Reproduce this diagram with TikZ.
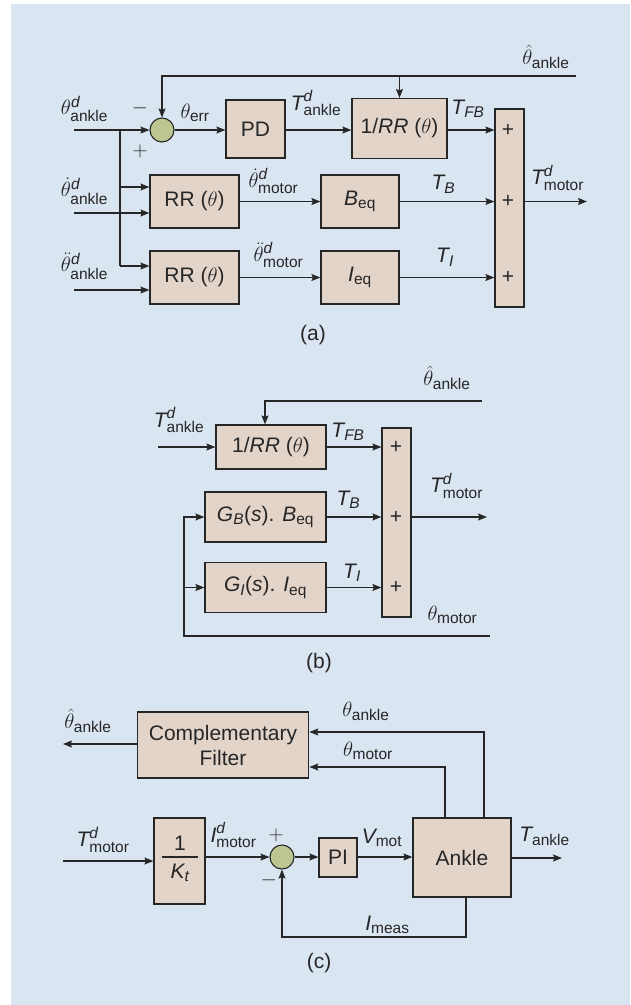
\documentclass[tikz,border=0pt]{standalone}
\usepackage{amsmath}
\usepackage{fontspec}
\setmainfont{Liberation Sans}
\usetikzlibrary{arrows.meta}
\DeclareMathSizes{21}{21}{15.5}{11}
\definecolor{bgblue}{RGB}{218,229,242}
\definecolor{boxfill}{RGB}{226,212,201}
\definecolor{sumgreen}{RGB}{189,198,146}
\definecolor{ink}{RGB}{38,38,38}
\newcommand{\vi}[1]{\textit{#1}}
\begin{document}
\begin{tikzpicture}[x=1pt,y=-1pt,
  font=\fontsize{21}{25}\selectfont,
  ln/.style={line width=1.1pt,draw=ink},
  arr/.style={ln,-{Stealth[length=9pt,width=7pt,inset=1.5pt]}},
  blk/.style={draw=ink,fill=boxfill,line width=1.2pt,inner sep=0pt,text=ink},
  sumc/.style={circle,draw=ink,fill=sumgreen,minimum size=24pt,inner sep=0pt,line width=1.1pt},
  lbl/.style={inner sep=0pt,text=ink}]
\useasboundingbox (0,0) rectangle (630,1005);
\fill[bgblue] (11,4) rectangle (630,1005);

% ---------------- (a) ----------------
\node[sumc] (s1) at (162,130) {};
\node[blk,minimum width=59pt,minimum height=58pt] (pd) at (255.5,129) {PD};
\node[blk,minimum width=95pt,minimum height=60pt] (irr) at (399.5,128.5) {1/\vi{RR} ($\theta$)};
\node[blk,minimum width=29pt,minimum height=198pt] (sA) at (509.5,208) {};
\node[blk,minimum width=89pt,minimum height=53pt] (rr1) at (194.5,201.5) {RR ($\theta$)};
\node[blk,minimum width=78pt,minimum height=53pt] (beq) at (360,201.5) {\vi{B}$_{\text{eq}}$};
\node[blk,minimum width=89pt,minimum height=53pt] (rr2) at (194.5,277.5) {RR ($\theta$)};
\node[blk,minimum width=78pt,minimum height=53pt] (ieq) at (360,277.5) {\vi{I}$_{\text{eq}}$};
\node[lbl] (pA1) at (508,130) {+};
\node[lbl] (pA2) at (508,201.5) {+};
\node[lbl] (pA3) at (508,277.5) {+};

\coordinate (inA) at (74,130);
\coordinate (brA) at (120,130);
\coordinate (brB) at (120,187);
\coordinate (brC) at (120,266);
\coordinate (inB) at (74,213);
\coordinate (inC) at (74,290);
\coordinate (fbA) at (576,76);
\coordinate (fbAL) at (162,76);
\coordinate (outA) at (587,201.5);

\draw[arr] (inA) -- (s1.west);
\draw[ln] (brA) -- (brC);
\draw[arr] (brB) -- (rr1.west |- brB);
\draw[arr] (brC) -- (rr2.west |- brC);
\draw[arr] (inB) -- (rr1.west |- inB);
\draw[arr] (inC) -- (rr2.west |- inC);
\draw[arr] (s1.east) -- (pd.west |- s1.east);
\draw[arr] (pd.east |- s1.east) -- (irr.west |- s1.east);
\draw[arr] (irr.east |- s1.east) -- (sA.west |- s1.east);
\draw[arr] (fbA) -- (fbAL) -- (s1.north);
\draw[arr] (irr.north |- fbA) -- (irr.north);
\draw[arr] (rr1.east) -- (beq.west);
\draw[arr] (beq.east) -- (sA.west |- beq.east);
\draw[arr] (rr2.east) -- (ieq.west);
\draw[arr] (ieq.east) -- (sA.west |- ieq.east);
\draw[arr] (sA.east |- beq.east) -- (outA);

\node[lbl] (la1) at (546,57) {$\hat{\theta}_{\text{ankle}}$};
\node[lbl] (la2) at (84.5,109) {$\theta^{\vi{d}}_{\text{ankle}}$};
\node[lbl] (la3) at (140,108) {$-$};
\node[lbl] (la4) at (140,151) {$+$};
\node[lbl] (la5) at (195,113) {$\theta_{\text{err}}$};
\node[lbl] (la6) at (316,103) {$\vi{T}^{\vi{d}}_{\text{ankle}}$};
\node[lbl] (la7) at (468,109) {$\vi{T}_{\vi{FB}}$};
\node[lbl] (la8) at (84.5,191) {$\dot{\theta}^{\vi{d}}_{\text{ankle}}$};
\node[lbl] (la9) at (273.5,181) {$\dot{\theta}^{\vi{d}}_{\text{motor}}$};
\node[lbl] (la10) at (443.5,184.5) {$\vi{T}_{\vi{B}}$};
\node[lbl] (la11) at (557.5,177.5) {$\vi{T}^{\vi{d}}_{\text{motor}}$};
\node[lbl] (la12) at (84.5,266) {$\ddot{\theta}^{\vi{d}}_{\text{ankle}}$};
\node[lbl] (la13) at (278.5,255) {$\ddot{\theta}^{\vi{d}}_{\text{motor}}$};
\node[lbl] (la14) at (445,257.5) {$\vi{T}_{\vi{I}}$};
\node[lbl] (la15) at (313,335) {(a)};

% ---------------- (b) ----------------
\node[blk,minimum width=110pt,minimum height=44pt] (irrB) at (271,447) {1/\vi{RR} ($\theta$)};
\node[blk,minimum width=29pt,minimum height=189pt] (sB) at (396.5,522.5) {};
\node[blk,minimum width=121pt,minimum height=50pt] (gb) at (265.5,517) {\vi{G}$_{\vi{B}}$(\vi{s}). \vi{B}$_{\text{eq}}$};
\node[blk,minimum width=121pt,minimum height=50pt] (gi) at (265.5,587.5) {\vi{G}$_{\vi{I}}$(\vi{s}). \vi{I}$_{\text{eq}}$};
\node[lbl] (pB1) at (396,447) {+};
\node[lbl] (pB2) at (396,517) {+};
\node[lbl] (pB3) at (396,587.5) {+};

\coordinate (inTB) at (158,447);
\coordinate (fbB) at (482,401);
\coordinate (outB) at (487,517);
\coordinate (fbM) at (490,636);
\coordinate (fbMc) at (184,636);

\draw[arr] (inTB) -- (irrB.west);
\draw[arr] (fbB) -- ([xshift=-6pt]fbB -| irrB.north) -- ([xshift=-6pt]irrB.north);
\draw[arr] (irrB.east) -- (sB.west |- irrB.east);
\draw[arr] (gb.east) -- (sB.west |- gb.east);
\draw[arr] (gi.east) -- (sB.west |- gi.east);
\draw[arr] (sB.east |- gb.east) -- (outB);
\draw[arr] (fbM) -- (fbMc) -- (fbMc |- gb.west) -- (gb.west);
\draw[arr] (fbMc |- gi.west) -- (gi.west);

\node[lbl] (lb1) at (447,378) {$\hat{\theta}_{\text{ankle}}$};
\node[lbl] (lb2) at (179,420) {$\vi{T}^{\vi{d}}_{\text{ankle}}$};
\node[lbl] (lb3) at (348,432) {$\vi{T}_{\vi{FB}}$};
\node[lbl] (lb4) at (348.5,500) {$\vi{T}_{\vi{B}}$};
\node[lbl] (lb5) at (456.5,485.5) {$\vi{T}^{\vi{d}}_{\text{motor}}$};
\node[lbl] (lb6) at (352,573) {$\vi{T}_{\vi{I}}$};
\node[lbl] (lb7) at (452.5,615) {$\theta_{\text{motor}}$};
\node[lbl] (lb8) at (319,663) {(b)};

% ---------------- (c) ----------------
\node[blk,minimum width=171.5pt,minimum height=66pt,align=center] (comp) at (223,745) {Complementary\\Filter};
\node[blk,minimum width=98pt,minimum height=79pt] (ankle) at (462,857.5) {Ankle};
\node[blk,minimum width=51pt,minimum height=86pt] (kt) at (179.5,861) {};
\node[sumc] (sC) at (282,857) {};
\node[blk,minimum width=38pt,minimum height=39pt] (pi) at (338,857.5) {PI};
\node[lbl] (kt1) at (180,843) {1};
\node[lbl] (kt2) at (180,873) {$\vi{K}_{\vi{t}}$};
\draw[ln] ([xshift=9pt,yshift=4pt]kt.west) -- ([xshift=-8pt,yshift=4pt]kt.east);

\coordinate (inTm) at (63,861);
\coordinate (outC) at (562,858);
\coordinate (imB) at (466,937);
\coordinate (tha) at (484,732);
\coordinate (thm) at (445,767);
\coordinate (outF) at (63,744);

\draw[arr] (inTm) -- (kt.west |- inTm);
\draw[arr] (kt.east |- sC) -- (sC.west);
\draw[arr] (sC.east) -- (pi.west |- sC.east);
\draw[arr] (pi.east |- sC.east) -- (ankle.west |- sC.east);
\draw[arr] (ankle.east |- outC) -- (outC);
\draw[arr] (ankle.south -| imB) -- (imB) -- (imB -| sC) -- (sC.south);
\draw[arr] (ankle.north -| tha) -- (tha) -- (comp.east |- tha);
\draw[arr] (ankle.north -| thm) -- (thm) -- (comp.east |- thm);
\draw[arr] (comp.west |- outF) -- (outF);

\node[lbl] (lc1) at (88,721) {$\hat{\theta}_{\text{ankle}}$};
\node[lbl] (lc2) at (366,711.5) {$\theta_{\text{ankle}}$};
\node[lbl] (lc3) at (368,751) {$\theta_{\text{motor}}$};
\node[lbl] (lc4) at (103,839.5) {$\vi{T}^{\vi{d}}_{\text{motor}}$};
\node[lbl] (lc5) at (233.5,835) {$\vi{I}^{\vi{d}}_{\text{motor}}$};
\node[lbl] (lc6) at (276,835) {$+$};
\node[lbl] (lc7) at (269,880) {$-$};
\node[lbl] (lc8) at (382,837.5) {$\vi{V}_{\text{mot}}$};
\node[lbl] (lc9) at (544.5,836) {$\vi{T}_{\text{ankle}}$};
\node[lbl] (lc10) at (387.5,924.5) {$\vi{I}_{\text{meas}}$};
\node[lbl] (lc11) at (319,963) {(c)};
\end{tikzpicture}
\end{document}
